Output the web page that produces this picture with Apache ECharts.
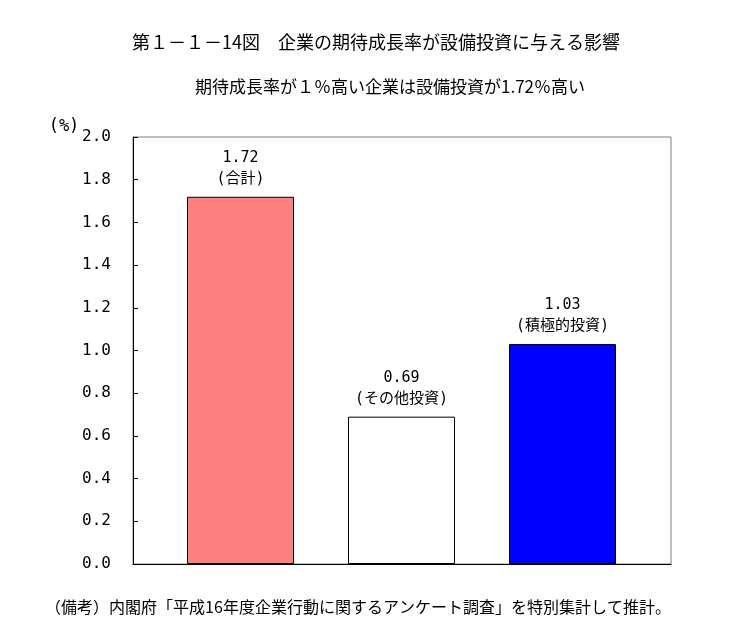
<!DOCTYPE html>
<html><head><meta charset="utf-8">
<script src="https://cdn.jsdelivr.net/npm/echarts@6/dist/echarts.min.js"></script>
<style>html,body{margin:0;padding:0;background:#fff}#c{width:734px;height:630px}</style>
</head><body><div id="c"></div>
<script>
const titleText = '第１－１－14図　企業の期待成長率が設備投資に与える影響';
const subtitleText = '期待成長率が１％高い企業は設備投資が1.72％高い';
const footerText = '（備考）内閣府「平成16年度企業行動に関するアンケート調査」を特別集計して推計。';
const unitText = '(%)';
const categories = ['合計', 'その他投資', '積極的投資'];
const values = [1.72, 0.69, 1.03];
const barColors = ['#FF8080', '#FFFFFF', '#0000FF'];
const yMin = 0, yMax = 2.0, yStep = 0.2;

const CJK = "'Noto Sans CJK JP'";
const MONO = "'DejaVu Sans Mono', 'Noto Sans CJK JP'";
const chart = echarts.init(document.getElementById('c'), null, {renderer: 'canvas'});
chart.setOption({
  backgroundColor: '#fff',
  animation: false,
  graphic: [
    {type: 'text', style: {text: titleText, x: 376, y: 42, align: 'center', verticalAlign: 'middle', font: '18px ' + CJK, fill: '#000'}},
    {type: 'text', style: {text: subtitleText, x: 390, y: 87, align: 'center', verticalAlign: 'middle', font: '17px ' + CJK, fill: '#000'}},
    {type: 'text', style: {text: unitText, x: 64, y: 127, align: 'center', verticalAlign: 'middle', font: '17px ' + MONO, fill: '#000'}},
    {type: 'text', style: {text: footerText, x: 358, y: 607, align: 'center', verticalAlign: 'middle', font: '16px ' + CJK, fill: '#000'}}
  ],
  grid: [
    {left: 133, right: 63, top: 137, bottom: 66, show: true, borderColor: '#808080', borderWidth: 1, backgroundColor: 'transparent'},
    {left: 160, width: 483, top: 137, bottom: 66}
  ],
  xAxis: [
    {gridIndex: 0, type: 'value', min: 0, max: 1, axisLine: {show: true, lineStyle: {color: '#000', width: 1}}, axisTick: {show: false}, axisLabel: {show: false}, splitLine: {show: false}},
    {gridIndex: 1, type: 'category', data: categories, axisLine: {show: false}, axisTick: {show: false}, axisLabel: {show: false}, splitLine: {show: false}}
  ],
  yAxis: [
    {gridIndex: 0, type: 'value', min: yMin, max: yMax, interval: yStep,
     axisLine: {show: true, lineStyle: {color: '#000', width: 1}},
     axisTick: {show: true, inside: true, length: 5, lineStyle: {color: '#000'}},
     axisLabel: {margin: 22, color: '#000', fontSize: 16, fontFamily: MONO, formatter: v => v.toFixed(1)},
     splitLine: {show: false}},
    {gridIndex: 1, type: 'value', min: yMin, max: yMax, show: false}
  ],
  series: [{
    type: 'bar', xAxisIndex: 1, yAxisIndex: 1, barWidth: 107,
    data: values.map((v, i) => ({value: v, itemStyle: {color: barColors[i]}})),
    itemStyle: {borderColor: '#000', borderWidth: 1},
    label: {show: true, position: 'top', distance: 7, color: '#000', fontSize: 15, lineHeight: 21, fontFamily: MONO,
      formatter: p => p.value.toFixed(2) + '\n(' + categories[p.dataIndex] + ')'}
  }]
});
</script></body></html>
